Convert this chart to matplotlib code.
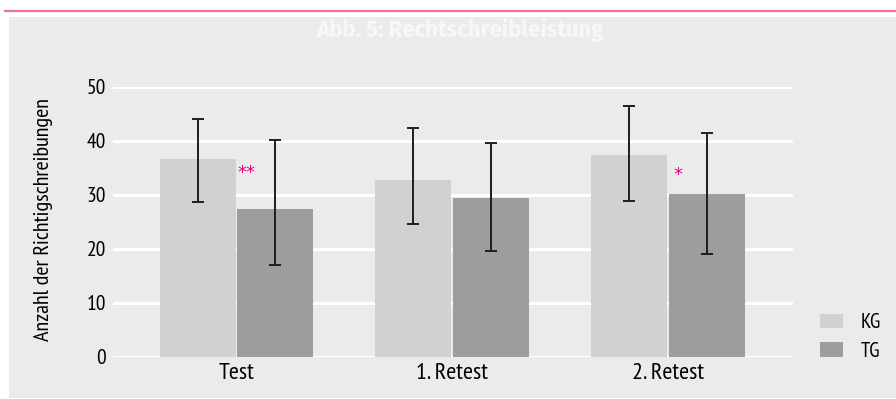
import matplotlib
matplotlib.use("Agg")
import matplotlib.pyplot as plt
from matplotlib.patches import Rectangle, Patch
from matplotlib.lines import Line2D
import numpy as np

plt.rcParams['font.family'] = ['PT Sans Narrow', 'DejaVu Sans']

# Data
categories = ["Test", "1. Retest", "2. Retest"]
series_names = ["KG", "TG"]
kg_mean = [36.6, 32.7, 37.4]
kg_err_low = [7.9, 8.1, 8.5]
kg_err_high = [7.4, 9.7, 9.1]
tg_mean = [27.4, 29.5, 30.2]
tg_err_low = [10.4, 9.9, 11.2]
tg_err_high = [12.7, 10.1, 11.3]
significance = ["**", "", "*"]
star_level = [34.0, 0, 33.6]
yticks = [0, 10, 20, 30, 40, 50]

title = "Abb. 5: Rechtschreibleistung"
ylabel = "Anzahl der Richtigschreibungen"

W, H = 896, 399
fig = plt.figure(figsize=(W / 100, H / 100), dpi=100)
fig.patch.set_facecolor("white")

# background panel and accent line
fig.add_artist(Rectangle((9 / W, 1 / H), 1 - 9 / W, (398 - 17) / H,
                         transform=fig.transFigure, facecolor="#ebebeb",
                         edgecolor="none", zorder=0))
fig.add_artist(Line2D([5 / W, 1], [1 - 11 / H, 1 - 11 / H], transform=fig.transFigure,
                      color="#ea6fa6", linewidth=1.6, zorder=1))
fig.text(459.5 / W, 1 - 37 / H, title, ha="center", va="baseline",
         fontsize=17.5, fontweight="bold", color="#f7f7f7",
         family=["Fira Sans Condensed", "DejaVu Sans"])

ax = fig.add_axes([113 / W, 42 / H, 680 / W, (357 - 86.7) / H])
ax.set_facecolor("none")
for s in ax.spines.values():
    s.set_visible(False)

x = np.arange(len(categories))
w = 0.352
gap = 0.004
kg_color = "#d0d2d1"
tg_color = "#9d9d9d"
err_kw = dict(ecolor="#1e1e1e", elinewidth=1.4, capsize=4.5, capthick=1.4)

ax.bar(x - w / 2 - gap, kg_mean, width=w, color=kg_color, zorder=3,
       yerr=[kg_err_low, kg_err_high], error_kw=err_kw)
ax.bar(x + w / 2 + gap, tg_mean, width=w, color=tg_color, zorder=3,
       yerr=[tg_err_low, tg_err_high], error_kw=err_kw)

for xi, sig, lvl in zip(x, significance, star_level):
    if sig:
        ax.text(xi + 0.046, lvl, sig, ha="center", va="center",
                fontsize=13, color="#e5007d", family="DejaVu Sans", zorder=4)

ax.set_ylim(0, 50)
ax.set_xlim(-0.573, 2.58)
ax.set_yticks(yticks)
ax.set_xticks(x)
ax.set_xticklabels(categories, fontsize=17.5)
ax.tick_params(axis="y", labelsize=15.5, length=0, pad=5)
ax.tick_params(axis="x", length=0, pad=4)
ax.yaxis.grid(True, color="white", linewidth=2.2, zorder=1)
ax.set_axisbelow(True)
ax.set_ylabel(ylabel, fontsize=16)
ax.yaxis.set_label_coords(-0.088, 0.507)

handles = [Patch(facecolor=kg_color, edgecolor="none"),
           Patch(facecolor=tg_color, edgecolor="none")]
fig.legend(handles, series_names, loc="upper left",
           bbox_to_anchor=(812 / W, 1 - 305 / H), frameon=False,
           fontsize=15, handlelength=1.1, handleheight=0.72,
           handletextpad=0.85, labelspacing=0.45, borderaxespad=0)

fig.savefig("out.png", dpi=100)
